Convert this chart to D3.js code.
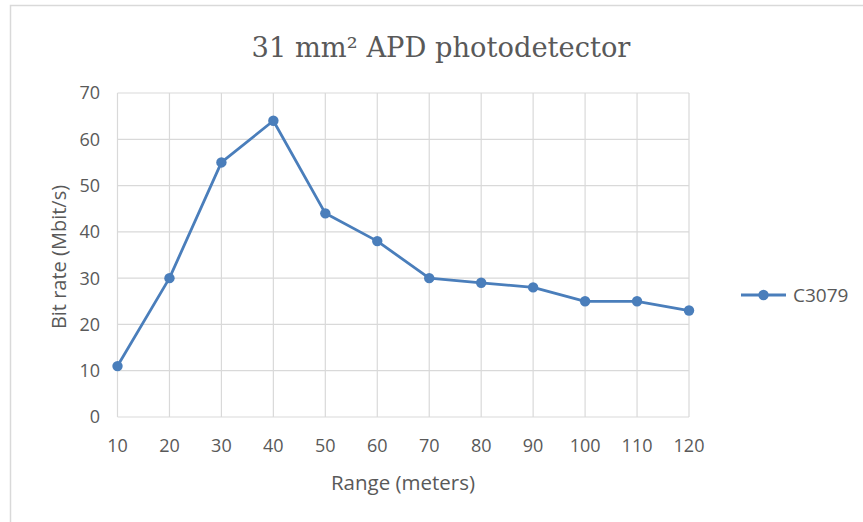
<!DOCTYPE html>
<html>
<head>
<meta charset="utf-8">
<script src="https://cdn.jsdelivr.net/npm/d3@7"></script>
<style>
  html, body { margin: 0; padding: 0; background: #fff; }
  svg { display: block; }
</style>
</head>
<body>
<svg id="chart" width="863" height="522"></svg>
<script>
// Bit rate vs. range for the C3079 APD
const ranges = [10, 20, 30, 40, 50, 60, 70, 80, 90, 100, 110, 120];
const bitRates = [11, 30, 55, 64, 44, 38, 30, 29, 28, 25, 25, 23];
const yTicks = [0, 10, 20, 30, 40, 50, 60, 70];
const seriesName = "C3079";
const titleText = "31 mm² APD photodetector";
const xTitle = "Range (meters)";
const yTitle = "Bit rate (Mbit/s)";

const svg = d3.select("#chart");
const ink = "#595959";
const grid = "#d9d9d9";
const blue = "#4a7ebb";
const sans = "'Open Sans', 'Liberation Sans', sans-serif";

// Outer chart frame
svg.append("rect")
  .attr("x", 10.5).attr("y", 5.5)
  .attr("width", 900).attr("height", 600)
  .attr("fill", "#fff").attr("stroke", grid).attr("stroke-width", 1.5);

const plot = { left: 117.5, right: 689, top: 93, bottom: 417 };

const x = d3.scalePoint().domain(ranges).range([plot.left, plot.right]);
const y = d3.scaleLinear().domain([0, 70]).range([plot.bottom, plot.top]);

// Horizontal gridlines
svg.append("g").selectAll("line").data(yTicks).join("line")
  .attr("x1", plot.left).attr("x2", plot.right)
  .attr("y1", d => y(d)).attr("y2", d => y(d))
  .attr("stroke", grid).attr("stroke-width", 1.2);

// Vertical gridlines
svg.append("g").selectAll("line").data(ranges).join("line")
  .attr("x1", d => x(d)).attr("x2", d => x(d))
  .attr("y1", plot.top).attr("y2", plot.bottom)
  .attr("stroke", grid).attr("stroke-width", 1.2);

// Y tick labels
svg.append("g").selectAll("text").data(yTicks).join("text")
  .attr("x", 100).attr("y", d => y(d))
  .attr("dy", "0.36em")
  .attr("text-anchor", "end")
  .attr("font-family", sans).attr("font-size", 18)
  .attr("fill", ink)
  .text(d => d);

// X tick labels
svg.append("g").selectAll("text").data(ranges).join("text")
  .attr("x", d => x(d)).attr("y", 452)
  .attr("text-anchor", "middle")
  .attr("font-family", sans).attr("font-size", 18)
  .attr("fill", ink)
  .text(d => d);

// Axis titles
svg.append("text")
  .attr("x", 403).attr("y", 490)
  .attr("text-anchor", "middle")
  .attr("font-family", sans).attr("font-size", 20.5)
  .attr("fill", ink)
  .text(xTitle);

svg.append("text")
  .attr("transform", `translate(66, 257) rotate(-90)`)
  .attr("text-anchor", "middle")
  .attr("font-family", sans).attr("font-size", 20)
  .attr("fill", ink)
  .text(yTitle);

// Title
svg.append("text")
  .attr("x", 441).attr("y", 57)
  .attr("text-anchor", "middle")
  .attr("font-family", "'DejaVu Serif', 'Liberation Serif', serif")
  .attr("font-size", 27.3)
  .attr("fill", ink)
  .text(titleText);

// Series line and markers
const pts = ranges.map((r, i) => [r, bitRates[i]]);
svg.append("path")
  .datum(pts)
  .attr("fill", "none")
  .attr("stroke", blue).attr("stroke-width", 2.8)
  .attr("stroke-linejoin", "round")
  .attr("d", d3.line().x(d => x(d[0])).y(d => y(d[1])));

svg.append("g").selectAll("circle").data(pts).join("circle")
  .attr("cx", d => x(d[0])).attr("cy", d => y(d[1]))
  .attr("r", 5.2)
  .attr("fill", blue);

// Legend
const lg = svg.append("g").attr("transform", "translate(741, 295)");
lg.append("line").attr("x1", 0).attr("x2", 45).attr("y1", 0).attr("y2", 0)
  .attr("stroke", blue).attr("stroke-width", 2.8);
lg.append("circle").attr("cx", 22.5).attr("cy", 0).attr("r", 5.2).attr("fill", blue);
lg.append("text").attr("x", 52).attr("y", 0).attr("dy", "0.36em")
  .attr("font-family", sans).attr("font-size", 19)
  .attr("fill", ink)
  .text(seriesName);
</script>
</body>
</html>
